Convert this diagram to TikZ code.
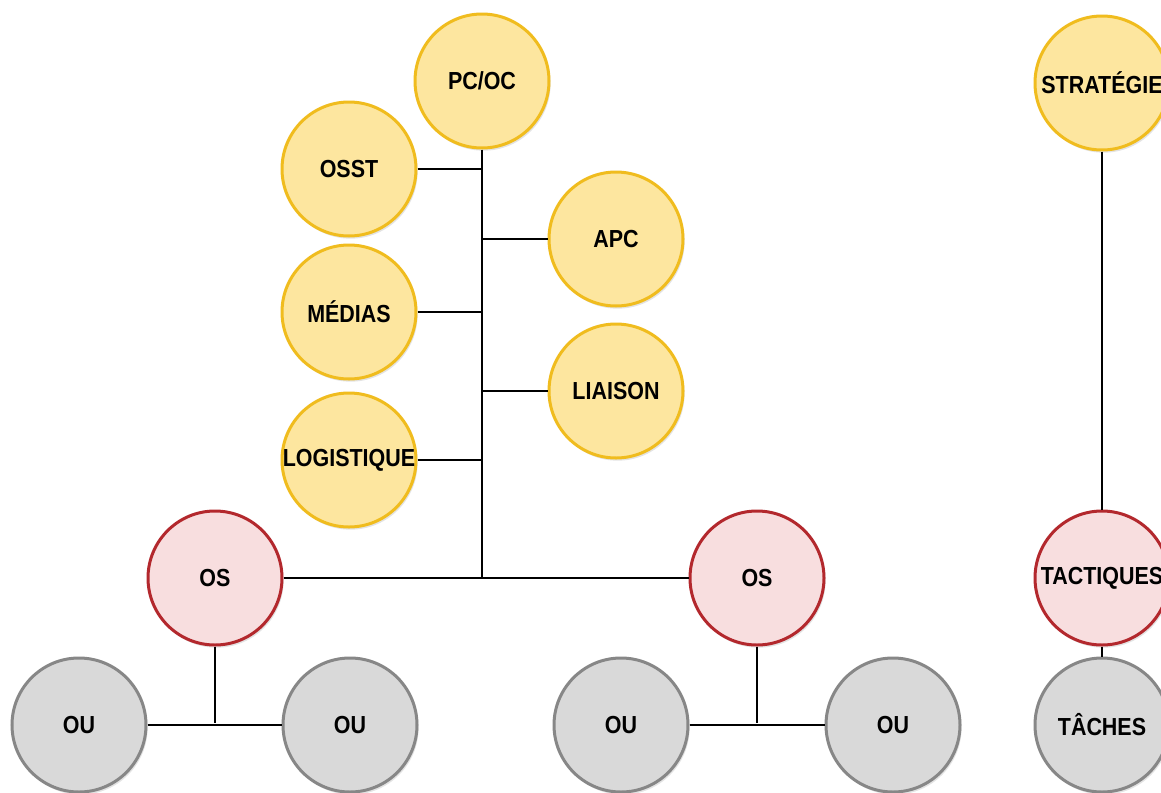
\documentclass[tikz,border=0pt]{standalone}
\usepackage{fontspec}
\setmainfont{Liberation Sans}[FakeStretch=0.87]
\usetikzlibrary{shadows}
\definecolor{yfill}{HTML}{FDE69F}
\definecolor{ydraw}{HTML}{F0BC1E}
\definecolor{rfill}{HTML}{F8DEDF}
\definecolor{rdraw}{HTML}{B3282D}
\definecolor{gfill}{HTML}{D9D9D9}
\definecolor{gdraw}{HTML}{878787}
\tikzset{
  unit/.style={circle, minimum size=100.5pt, inner sep=0pt, line width=2.25pt,
    font=\fontsize{18.5}{20}\selectfont\bfseries,
    drop shadow={opacity=0.22, shadow xshift=1.2pt, shadow yshift=-2pt}},
  yunit/.style={unit, fill=yfill, draw=ydraw},
  runit/.style={unit, fill=rfill, draw=rdraw},
  gunit/.style={unit, fill=gfill, draw=gdraw},
  link/.style={line width=1.5pt, black}
}
\begin{document}
\begin{tikzpicture}[x=0.75pt, y=-0.75pt]
\useasboundingbox (0,0) rectangle (1161,793);
\clip (0,0) rectangle (1161,793);
\fill[white] (0,0) rectangle (1161,793);

% command post and its staff
\node[yunit] (pcoc) at (482,81) {PC/OC};
\node[yunit] (osst) at (349,169) {OSST};
\node[yunit] (apc) at (616,239) {APC};
\node[yunit] (medias) at (349,312) {MÉDIAS};
\node[yunit] (liaison) at (616,391) {LIAISON};
\node[yunit] (logist) at (349,460) {LOGISTIQUE};

% sector and unit officers
\node[runit] (osl) at (215,578) {OS};
\node[runit] (osr) at (757,578) {OS};
\node[gunit] (ou1) at (79,725) {OU};
\node[gunit] (ou2) at (350,725) {OU};
\node[gunit] (ou3) at (621,725) {OU};
\node[gunit] (ou4) at (893,725) {OU};

% levels column
\node[yunit] (strat) at (1102,83) {STRATÉGIE};
\node[runit] (tact) at (1102,578) {TACTIQUES};
\node[gunit] (taches) at (1102,725) {TÂCHES};

\coordinate (hub) at (482,578);
\coordinate (jl) at (215,723);
\coordinate (jr) at (757,723);

\begin{scope}[on background layer/.style={}]
\draw[link] (pcoc.south) -- (hub);
\draw[link] (osl.east) -- (osr.west);
\draw[link] (osst.east) -- (osst.east -| hub);
\draw[link] (medias.east) -- (medias.east -| hub);
\draw[link] (logist.east) -- (logist.east -| hub);
\draw[link] (apc.west) -- (apc.west -| hub);
\draw[link] (liaison.west) -- (liaison.west -| hub);

\draw[link] (osl.south) -- (jl);
\draw[link] (ou1.east) -- (ou2.west);
\draw[link] (osr.south) -- (jr);
\draw[link] (ou3.east) -- (ou4.west);

\draw[link] (strat.south) -- (tact.north);
\draw[link] (tact.south) -- (taches.north);
\end{scope}
\end{tikzpicture}
\end{document}
